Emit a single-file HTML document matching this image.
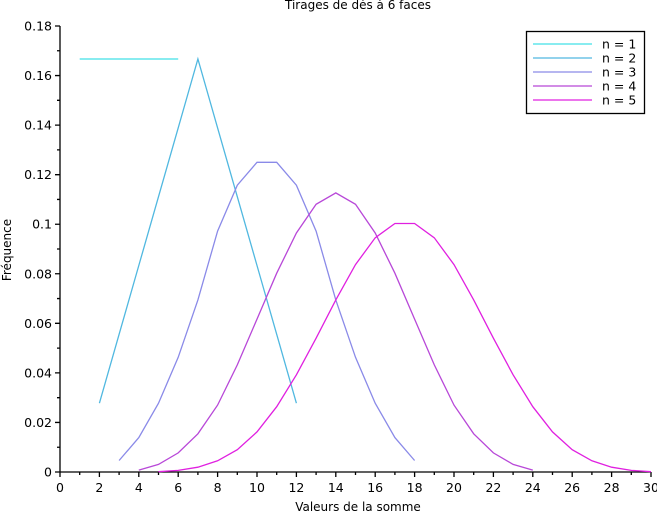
<!DOCTYPE html>
<html><head><meta charset="utf-8"><style>
body{margin:0;background:#fff;}
svg{display:block;font-family:"DejaVu Sans","Liberation Sans",sans-serif;}
</style></head><body>
<svg id="s" width="657" height="512" xmlns="http://www.w3.org/2000/svg">
<text x="358" y="9" font-size="12" text-anchor="middle">Tirages de dés à 6 faces</text>
<text x="358" y="511" font-size="12" text-anchor="middle">Valeurs de la somme</text>
<text transform="translate(11,250) rotate(-90)" font-size="12" text-anchor="middle">Fréquence</text>
<g id="ax" stroke="#000" stroke-width="1.3" fill="none"></g>
<g id="lab" font-size="12.5" fill="#000"></g>
<g id="ser" fill="none" stroke-width="1.3"></g>
<rect x="526.5" y="31.5" width="118" height="82" fill="#fff" stroke="#000" stroke-width="1.3"/>
<g font-size="12.5" id="leg"></g>
</svg>
<script>
const X0=60,XS=(651-60)/30,Y0=472,YS=(472-26)/0.18;
const px=x=>X0+x*XS, py=y=>Y0-y*YS;
const ax=document.getElementById('ax'),lab=document.getElementById('lab');
let d=`M${X0},${py(0.18)}V${Y0}H${px(30)}`;
for(let i=0;i<=30;i++){const x=px(i);d+=`M${x},${Y0}v${i%2==0?5:3}`;if(i%2==0)lab.innerHTML+=`<text x="${x}" y="${Y0+20}" text-anchor="middle">${i}</text>`;}
for(let i=0;i<=18;i++){const y=py(i*0.01);d+=`M${X0},${y}h${i%2==0?-5:-3}`;if(i%2==0){let t=i==0?'0':(i*0.01).toFixed(2).replace(/0$/,'');lab.innerHTML+=`<text x="${X0-8}" y="${y+4.5}" text-anchor="end">${t}</text>`;}}
ax.innerHTML=`<path d="${d}"/>`;
const cols=['#40e0e8','#50b8e0','#8a8ae8','#b848d8','#e020e0'];
let dist=[1,1,1,1,1,1].map(v=>v/6),off=1;
let ser='',leg='';
for(let n=1;n<=5;n++){
 let pts=dist.map((v,i)=>`${px(off+i).toFixed(1)},${py(v).toFixed(1)}`);
 ser+=`<polyline points="${pts.join(' ')}" stroke="${cols[n-1]}"/>`;
 const ly=44+(n-1)*14;
 leg+=`<line x1="533" x2="592" y1="${ly}" y2="${ly}" stroke="${cols[n-1]}" stroke-width="1.3"/><text x="602" y="${ly+4.5}">n = ${n}</text>`;
 let nd=new Array(dist.length+5).fill(0);
 dist.forEach((v,i)=>{for(let k=0;k<6;k++)nd[i+k]+=v/6;});
 dist=nd;off+=1;
}
document.getElementById('ser').innerHTML=ser;
document.getElementById('leg').innerHTML=leg;
</script>
</body></html>
